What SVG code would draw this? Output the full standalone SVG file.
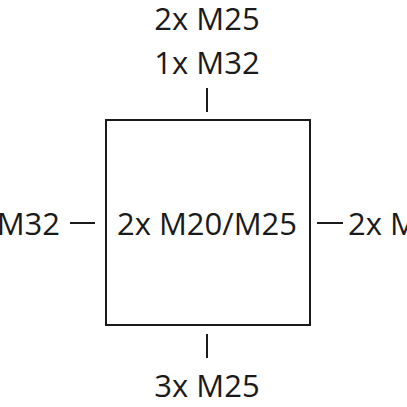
<svg xmlns="http://www.w3.org/2000/svg" width="407" height="407" viewBox="0 0 407 407">
<style>
text{font-family:"Open Sans","Noto Sans",sans-serif;font-size:31px;fill:#1a1a1a}
.l{stroke:#1a1a1a;stroke-width:2;fill:none}
</style>
<rect width="407" height="407" fill="#fff"/>
<g id="box">
<rect class="l" x="106" y="120" width="204" height="205"/>
<text x="207" y="235" text-anchor="middle">2x M20/M25</text>
</g>
<g id="top"><text x="207" y="30" text-anchor="middle">2x M25</text><text x="207" y="74" text-anchor="middle">1x M32</text></g>
<g id="bottom"><text x="207" y="397" text-anchor="middle">3x M25</text></g>
<g id="left"><text x="60" y="235" text-anchor="end">M32</text></g>
<g id="right"><text x="348" y="235">2x M</text></g>
<g id="connectors">
<line class="l" x1="207" y1="88" x2="207" y2="112"/>
<line class="l" x1="207" y1="334" x2="207" y2="358"/>
<line class="l" x1="70" y1="223" x2="95" y2="223"/>
<line class="l" x1="317" y1="223" x2="343" y2="223"/>
</g>
</svg>
